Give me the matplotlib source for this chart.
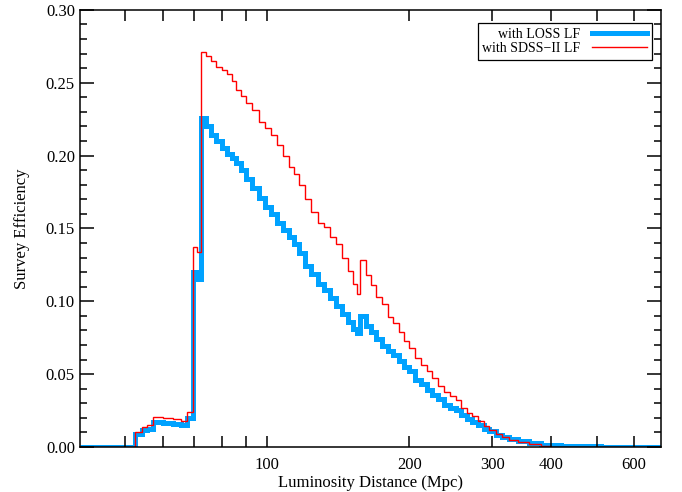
import matplotlib
matplotlib.use("Agg")
import matplotlib.pyplot as plt
from matplotlib.ticker import FixedLocator, NullFormatter, MultipleLocator

# bin edges of the efficiency histograms (Mpc)
dist_edges = [40, 52.5, 54.3, 55.6, 57.3, 60, 63, 65.5, 67.5, 69.7, 71, 72.2,
              74, 76, 78, 80, 82, 84, 86, 88, 90, 93, 96, 99, 102, 105, 108,
              111, 114, 117, 120, 124, 128, 132, 136, 140, 144, 148, 152, 155,
              157, 162, 166, 170, 175, 180, 185, 190, 195, 200, 206, 212, 218,
              224, 230, 237, 244, 251, 258, 265, 272, 280, 288, 296, 305, 315,
              325, 340, 360, 380, 400, 420, 460, 510, 560, 684]

eff_loss = [0, 0.009, 0.0115, 0.0125, 0.0172, 0.0168, 0.016, 0.015, 0.020,
            0.120, 0.115, 0.226,
            0.220, 0.214, 0.210, 0.205, 0.201, 0.198, 0.195, 0.190, 0.184,
            0.178, 0.171, 0.165, 0.160, 0.154, 0.149, 0.144, 0.139, 0.133,
            0.124, 0.119, 0.112, 0.108, 0.102, 0.097, 0.091, 0.086, 0.081,
            0.078, 0.090, 0.083, 0.079, 0.074, 0.069, 0.066, 0.063, 0.059,
            0.055, 0.052, 0.046, 0.043, 0.039, 0.036, 0.033, 0.029, 0.0265,
            0.0255, 0.022, 0.019, 0.017, 0.015, 0.0125, 0.011, 0.0085, 0.007,
            0.0055, 0.004, 0.0027, 0.0016, 0.0011, 0.0007, 0.0004, 0.0002, 0.0]

eff_sdss = [0, 0.0105, 0.0135, 0.015, 0.0205, 0.0198, 0.0192, 0.018, 0.024,
            0.137, 0.134, 0.271,
            0.268, 0.265, 0.261, 0.259, 0.256, 0.251, 0.245, 0.241, 0.236,
            0.231, 0.223, 0.219, 0.214, 0.207, 0.200, 0.192, 0.187, 0.180,
            0.170, 0.161, 0.154, 0.151, 0.144, 0.139, 0.130, 0.121, 0.112,
            0.105, 0.128, 0.118, 0.111, 0.103, 0.098, 0.089, 0.085, 0.079,
            0.073, 0.068, 0.061, 0.056, 0.052, 0.047, 0.042, 0.038, 0.035,
            0.032, 0.027, 0.0235, 0.021, 0.0175, 0.0145, 0.0115, 0.009, 0.007,
            0.005, 0.0032, 0.0018, 0.0008, 0.0003, 0.0001, 0.0, 0.0, 0.0]

major_ticks = [100, 200, 300, 400, 600]
minor_ticks = [50, 60, 70, 80, 90, 500]

plt.rcParams['font.family'] = ['Liberation Serif', 'DejaVu Serif']

fig = plt.figure(figsize=(6.82, 4.92), dpi=100)
ax = fig.add_axes([0.117, 0.0915, 0.852, 0.8885])

ax.stairs(eff_loss, dist_edges, color='#00a2ff', linewidth=3.6,
          baseline=None, label='with LOSS LF')
ax.stairs(eff_sdss, dist_edges, color='#ff0000', linewidth=1.0,
          baseline=None, label='with SDSS\u2212II LF')

ax.set_xscale('log')
ax.set_xlim(40, 684)
ax.set_ylim(0, 0.30)

ax.xaxis.set_major_locator(FixedLocator(major_ticks))
ax.xaxis.set_major_formatter(plt.FixedFormatter([str(t) for t in major_ticks]))
ax.xaxis.set_minor_locator(FixedLocator(minor_ticks))
ax.xaxis.set_minor_formatter(NullFormatter())
ax.yaxis.set_major_locator(MultipleLocator(0.05))
ax.yaxis.set_minor_locator(MultipleLocator(0.01))
ax.yaxis.set_major_formatter(plt.FuncFormatter(lambda v, p: f"{v:.2f}"))

ax.tick_params(which='both', direction='in', top=True, right=True,
               labelsize=12, width=1.1)
ax.tick_params(axis='x', which='both', length=8, pad=7.5)
ax.tick_params(axis='y', which='major', length=10)
ax.tick_params(axis='y', which='minor', length=5)
for s in ax.spines.values():
    s.set_linewidth(1.1)

ax.set_xlabel('Luminosity Distance (Mpc)', fontsize=12, labelpad=1)
ax.set_ylabel('Survey Efficiency', fontsize=12, labelpad=11)

leg = ax.legend(loc='upper right', bbox_to_anchor=(0.985, 0.970),
                borderaxespad=0, markerfirst=False, fontsize=10,
                fancybox=False, edgecolor='black', framealpha=1,
                borderpad=0.35, labelspacing=0.1, handlelength=4.0,
                handletextpad=0.8)
leg.get_frame().set_linewidth(0.9)

fig.savefig('out.png', dpi=100)
